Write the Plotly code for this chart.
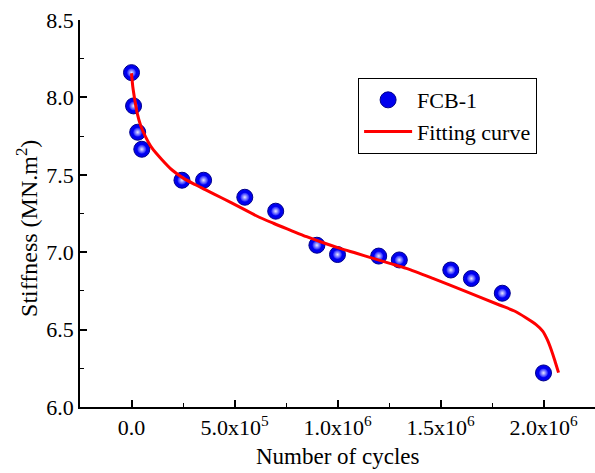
import plotly.graph_objects as go

# Measured data points
cycles = [0, 1.0e4, 3.0e4, 5.0e4, 2.45e5, 3.5e5, 5.5e5, 7.0e5, 9.0e5, 1.0e6,
          1.2e6, 1.3e6, 1.55e6, 1.65e6, 1.8e6, 2.0e6]
stiffness = [8.16, 7.945, 7.775, 7.665, 7.465, 7.465, 7.355, 7.265, 7.045, 6.985,
             6.975, 6.950, 6.885, 6.830, 6.735, 6.220]

# Fitting curve
fit_x = [0, 6.3e3, 1.6e4, 2.76e4, 4.36e4, 6.78e4, 1.0e5, 1.49e5, 1.97e5, 2.53e5,
         3.1e5, 3.58e5, 4.39e5, 5.28e5, 6.08e5, 6.89e5, 7.70e5, 8.50e5, 9.31e5,
         1.012e6, 1.092e6, 1.173e6, 1.254e6, 1.334e6, 1.463e6, 1.625e6, 1.786e6,
         1.859e6, 1.915e6, 1.964e6, 1.996e6, 2.019e6, 2.038e6, 2.057e6, 2.073e6]
fit_y = [8.156, 8.069, 7.984, 7.898, 7.822, 7.747, 7.672, 7.596, 7.531, 7.477,
         7.436, 7.404, 7.350, 7.290, 7.234, 7.187, 7.143, 7.100, 7.061,
         7.025, 6.993, 6.960, 6.928, 6.896, 6.831, 6.745, 6.659,
         6.620, 6.576, 6.532, 6.490, 6.433, 6.368, 6.291, 6.222]

x_tickvals = [0, 5e5, 1e6, 1.5e6, 2e6]
x_ticktext = ["0.0", "5.0x10<sup>5</sup>", "1.0x10<sup>6</sup>",
              "1.5x10<sup>6</sup>", "2.0x10<sup>6</sup>"]
y_tickvals = [6.0, 6.5, 7.0, 7.5, 8.0, 8.5]
y_ticktext = ["6.0", "6.5", "7.0", "7.5", "8.0", "8.5"]

FONT = "Liberation Serif, Times New Roman, serif"

fig = go.Figure()
fig.add_trace(go.Scatter(
    x=cycles, y=stiffness, mode="markers", name="FCB-1",
    marker=dict(size=16, color="#0000ee", line=dict(color="#00008a", width=1)),
))
fig.add_trace(go.Scatter(
    x=cycles, y=stiffness, mode="markers", name="FCB-1 hl", showlegend=False,
    hoverinfo="skip",
    marker=dict(size=9, color="#1a1aff",
                gradient=dict(type="radial", color="#e8e8ff"),
                line=dict(width=0)),
))
fig.add_trace(go.Scatter(
    x=fit_x, y=fit_y, mode="lines", name="Fitting curve",
    line=dict(color="#ff0000", width=3, shape="spline", smoothing=0.8),
))

fig.update_layout(
    width=595, height=473,
    margin=dict(l=80, r=0, t=20, b=66),
    paper_bgcolor="white", plot_bgcolor="white",
    font=dict(family=FONT, size=22, color="black"),
    showlegend=True,
    legend=dict(x=0.54, y=0.85, xanchor="left", yanchor="top",
                bordercolor="black", borderwidth=1, bgcolor="white",
                font=dict(size=22, family=FONT), tracegroupgap=0,
                itemwidth=48),
    xaxis=dict(
        range=[-2.5e5, 2.25e6], showgrid=False, zeroline=False,
        showline=True, linecolor="black", linewidth=1.5,
        tickmode="array", tickvals=x_tickvals, ticktext=x_ticktext,
        ticks="inside", ticklen=7, tickwidth=1.5, tickcolor="black",
        tickfont=dict(size=22, family=FONT),
        minor=dict(dtick=2.5e5, tick0=0, ticks="inside", ticklen=4,
                   tickwidth=1.2, tickcolor="black"),
    ),
    yaxis=dict(
        range=[6.0, 8.5], showgrid=False, zeroline=False,
        showline=True, linecolor="black", linewidth=1.5,
        tickmode="array", tickvals=y_tickvals, ticktext=y_ticktext,
        ticks="inside", ticklen=7, tickwidth=1.5, tickcolor="black",
        tickfont=dict(size=22, family=FONT),
        minor=dict(dtick=0.25, tick0=0, ticks="inside", ticklen=4,
                   tickwidth=1.2, tickcolor="black"),
    ),
    annotations=[
        dict(text="Number of cycles", xref="paper", yref="paper",
             x=0.5, y=-0.128, xanchor="center", yanchor="middle",
             showarrow=False, font=dict(size=23, family=FONT)),
        dict(text="Stiffness (MN.m<sup>2</sup>)", xref="paper", yref="paper",
             x=-0.103, y=0.4625, xanchor="center", yanchor="middle",
             textangle=-90, showarrow=False, font=dict(size=24, family=FONT)),
    ],
)

fig.write_html("out.html")
